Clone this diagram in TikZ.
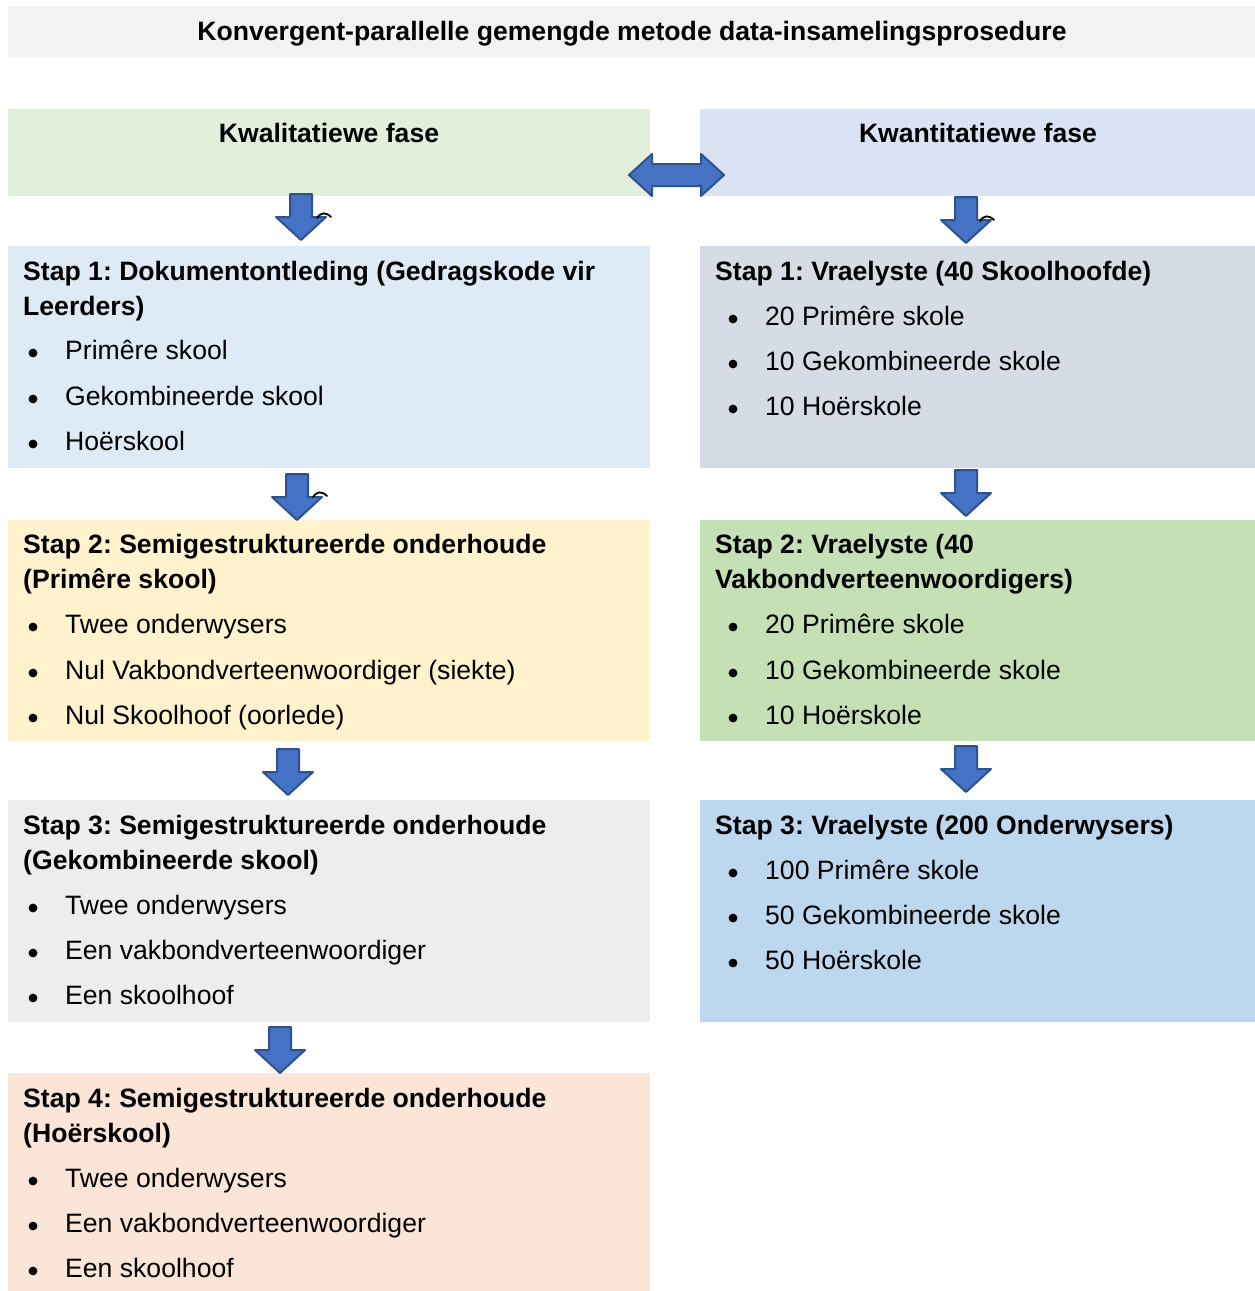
\documentclass[tikz,border=0pt]{standalone}
\usepackage{fontspec}
\setmainfont{Liberation Sans}
\frenchspacing
\definecolor{titlebg}{HTML}{F2F2F2}
\definecolor{qualhead}{HTML}{E2EFDA}
\definecolor{quanthead}{HTML}{DAE3F3}
\definecolor{lone}{HTML}{DEEBF7}
\definecolor{ltwo}{HTML}{FFF2CC}
\definecolor{lthree}{HTML}{EDEDED}
\definecolor{lfour}{HTML}{FBE5D6}
\definecolor{rone}{HTML}{D6DCE5}
\definecolor{rtwo}{HTML}{C5E0B4}
\definecolor{rthree}{HTML}{BDD7EE}
\definecolor{arrowfill}{HTML}{4472C4}
\definecolor{arrowedge}{HTML}{2F528F}
\tikzset{
  panel/.style={draw=none, anchor=north west, inner sep=0pt, outer sep=0pt},
  txt/.style={anchor=base west, inner sep=0pt, font=\fontsize{26.6}{35}\selectfont},
  hdtxt/.style={txt, font=\fontsize{26.6}{35}\selectfont\bfseries},
  cttxt/.style={anchor=base, inner sep=0pt, font=\fontsize{26.6}{35}\selectfont\bfseries},
  blockarrow/.style={fill=arrowfill, draw=arrowedge, line width=2pt, line join=round},
  downarr/.pic={\path[blockarrow] (-11,0) -- (11,0) -- (11,23) -- (25,23) -- (0,46) -- (-25,23) -- (-11,23) -- cycle;},
  dblarr/.pic={\path[blockarrow] (-47.5,0) -- (-24.5,-21) -- (-24.5,-11) -- (24.5,-11) -- (24.5,-21) -- (47.5,0)
      -- (24.5,21) -- (24.5,11) -- (-24.5,11) -- (-24.5,21) -- cycle;},
  squiggle/.style={draw=black, line width=1.8pt, line cap=round}
}
% bullet item: x of bullet, x of text, visual centre y, text
\newcommand{\bitem}[4]{%
  \fill (#1,#3+3) circle[radius=4.4];
  \node[txt] at (#2,#3+9.5) {#4};}
\begin{document}
\begin{tikzpicture}[x=1pt,y=-1pt]
\useasboundingbox (0,0) rectangle (1255,1291);

% title bar
\node[panel, fill=titlebg, minimum width=1247pt, minimum height=51pt] (title) at (8,6) {};
\node[cttxt] (titletext) at (632,40.5) {Konvergent-parallelle gemengde metode data-insamelingsprosedure};

% phase headers
\node[panel, fill=qualhead, minimum width=642pt, minimum height=87pt] (qual) at (8,109) {};
\node[panel, fill=quanthead, minimum width=555pt, minimum height=87pt] (quant) at (700,109) {};
\node[cttxt] at (329,142.5) {Kwalitatiewe fase};
\node[cttxt] at (978,142.5) {Kwantitatiewe fase};

% left column
\node[panel, fill=lone, minimum width=642pt, minimum height=222pt] (L1) at (8,246) {};
\node[panel, fill=ltwo, minimum width=642pt, minimum height=221pt] (L2) at (8,520) {};
\node[panel, fill=lthree, minimum width=642pt, minimum height=222pt] (L3) at (8,800) {};
\node[panel, fill=lfour, minimum width=642pt, minimum height=218pt] (L4) at (8,1073) {};

% right column
\node[panel, fill=rone, minimum width=555pt, minimum height=222pt] (R1) at (700,246) {};
\node[panel, fill=rtwo, minimum width=555pt, minimum height=221pt] (R2) at (700,520) {};
\node[panel, fill=rthree, minimum width=555pt, minimum height=222pt] (R3) at (700,800) {};

% connecting block arrows
\pic at (676.5,175) {dblarr};
\pic at (301,194) {downarr};
\pic at (297,474) {downarr};
\pic at (288,749) {downarr};
\pic at (280,1027) {downarr};
\pic at (966,197) {downarr};
\pic at (966,470) {downarr};
\pic at (966,746) {downarr};
\path[squiggle] (317,218) .. controls (321,212) and (326,212) .. (331,217);
\path[squiggle] (313,497) .. controls (317,491) and (322,491) .. (327,496);
\path[squiggle] (980,221) .. controls (984,215) and (989,215) .. (994,220);

% left texts
\node[hdtxt] at (23,280.5) {Stap 1: Dokumentontleding (Gedragskode vir};
\node[hdtxt] at (23,315.5) {Leerders)};
\bitem{33}{65}{350}{Primêre skool}
\bitem{33}{65}{396}{Gekombineerde skool}
\bitem{33}{65}{441}{Hoërskool}

\node[hdtxt] at (23,553.5) {Stap 2: Semigestruktureerde onderhoude};
\node[hdtxt] at (23,588.5) {(Primêre skool)};
\bitem{33}{65}{624}{Twee onderwysers}
\bitem{33}{65}{670}{Nul Vakbondverteenwoordiger (siekte)}
\bitem{33}{65}{715}{Nul Skoolhoof (oorlede)}

\node[hdtxt] at (23,834.5) {Stap 3: Semigestruktureerde onderhoude};
\node[hdtxt] at (23,869.5) {(Gekombineerde skool)};
\bitem{33}{65}{905}{Twee onderwysers}
\bitem{33}{65}{950}{Een vakbondverteenwoordiger}
\bitem{33}{65}{995}{Een skoolhoof}

\node[hdtxt] at (23,1107.5) {Stap 4: Semigestruktureerde onderhoude};
\node[hdtxt] at (23,1142.5) {(Hoërskool)};
\bitem{33}{65}{1178}{Twee onderwysers}
\bitem{33}{65}{1223}{Een vakbondverteenwoordiger}
\bitem{33}{65}{1268}{Een skoolhoof}

% right texts
\node[hdtxt] at (715,280.5) {Stap 1: Vraelyste (40 Skoolhoofde)};
\bitem{733}{765}{316}{20 Primêre skole}
\bitem{733}{765}{361}{10 Gekombineerde skole}
\bitem{733}{765}{406}{10 Hoërskole}

\node[hdtxt] at (715,553.5) {Stap 2: Vraelyste (40};
\node[hdtxt] at (715,588.5) {Vakbondverteenwoordigers)};
\bitem{733}{765}{624}{20 Primêre skole}
\bitem{733}{765}{670}{10 Gekombineerde skole}
\bitem{733}{765}{715}{10 Hoërskole}

\node[hdtxt] at (715,834.5) {Stap 3: Vraelyste (200 Onderwysers)};
\bitem{733}{765}{870}{100 Primêre skole}
\bitem{733}{765}{915}{50 Gekombineerde skole}
\bitem{733}{765}{960}{50 Hoërskole}
\end{tikzpicture}
\end{document}
